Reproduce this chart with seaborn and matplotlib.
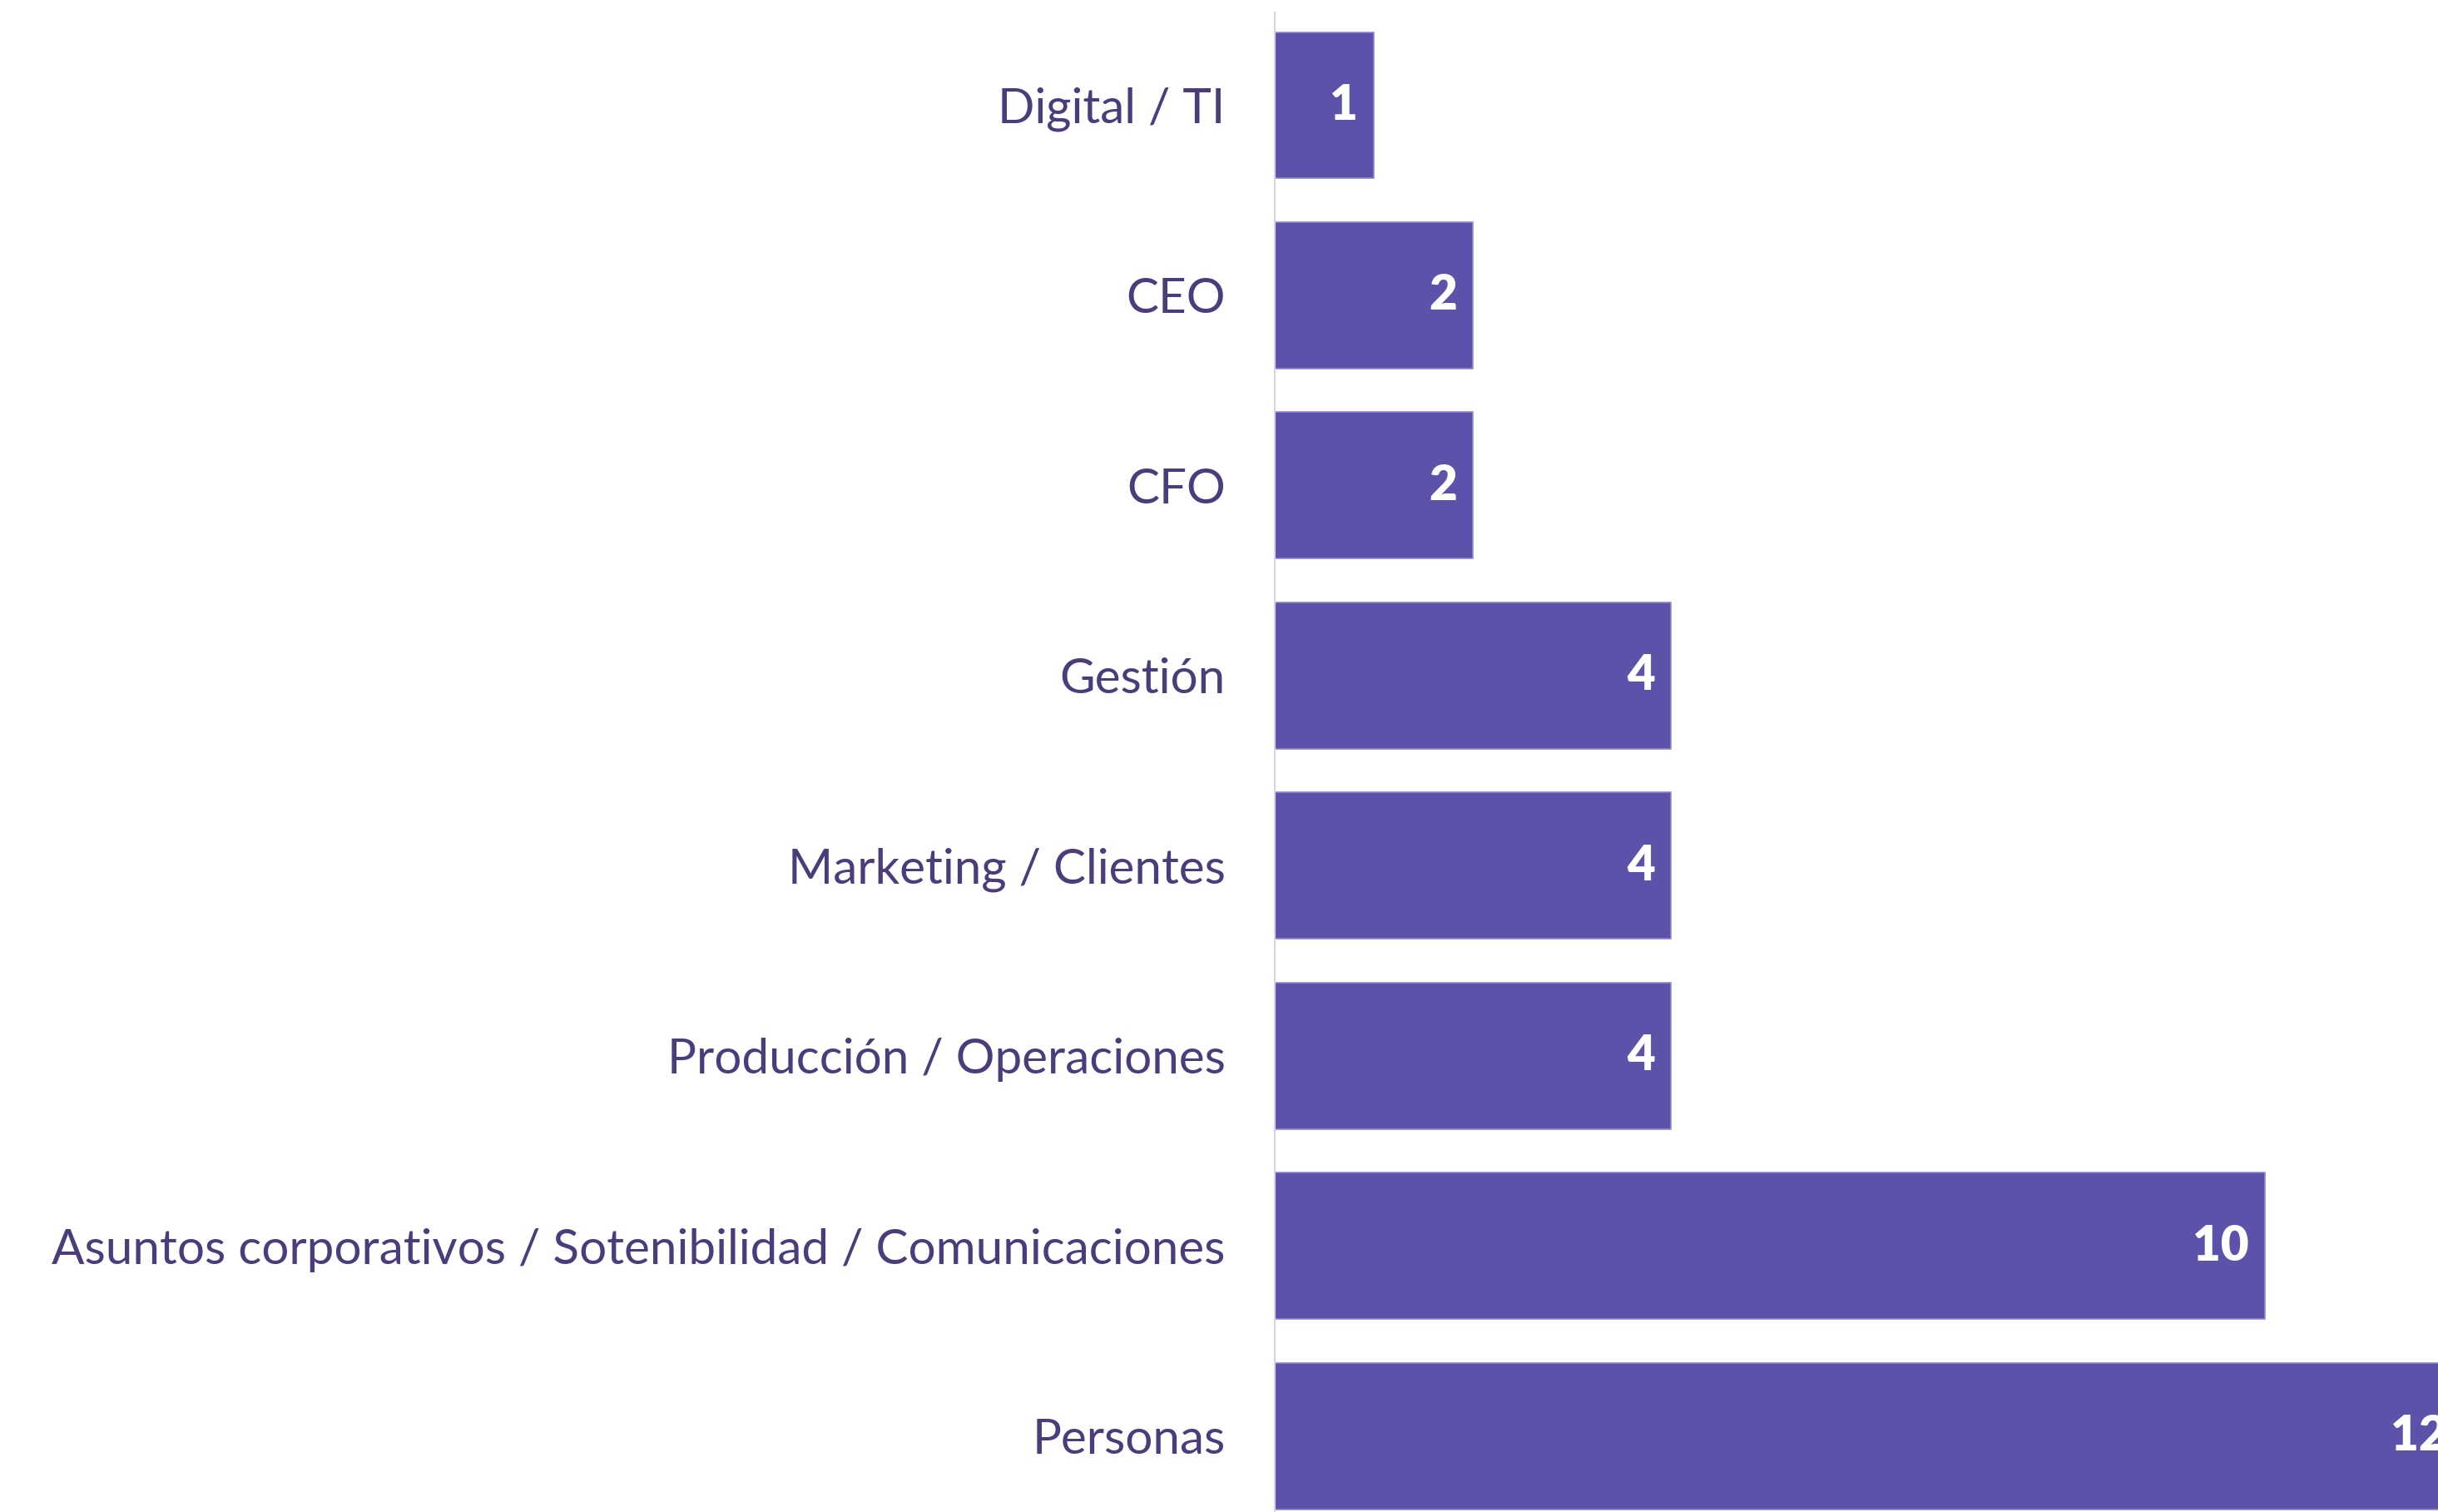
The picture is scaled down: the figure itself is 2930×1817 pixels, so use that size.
import pandas as pd
import seaborn as sns
import matplotlib.pyplot as plt

areas = ["Digital / TI", "CEO", "CFO", "Gestión", "Marketing / Clientes",
         "Producción / Operaciones",
         "Asuntos corporativos / Sotenibilidad / Comunicaciones", "Personas"]
counts = [1, 2, 2, 4, 4, 4, 10, 12]

df = pd.DataFrame({"area": areas, "n": counts})

sns.set_style("white")
plt.rcParams["font.family"] = ["Lato", "DejaVu Sans"]

bar_color = "#5C52AA"
text_color = "#4B3C7C"

fig = plt.figure(figsize=(29.30, 18.17), dpi=100)
ax = fig.add_axes([0.523, 0.0, 0.477, 0.992])

sns.barplot(data=df, y="area", x="n", color=bar_color, width=0.77,
            edgecolor="#8F87D0", linewidth=1.2, saturation=1, ax=ax)

for i, v in enumerate(counts):
    ax.annotate(str(v), xy=(v, i), xytext=(-14, 0), textcoords="offset points",
                ha="right", va="center", color="white", fontsize=42,
                fontweight="heavy", annotation_clip=False)

ax.set_xlim(0, 11.75)
ax.set_ylim(7.40, -0.49)
ax.set_xlabel("")
ax.set_ylabel("")
ax.set_xticks([])
ax.tick_params(axis="y", length=0, pad=43, labelsize=42, labelcolor=text_color)
for lbl in ax.get_yticklabels():
    lbl.set_fontweight("normal")

for s in ["top", "right", "bottom"]:
    ax.spines[s].set_visible(False)
ax.spines["left"].set_color("#D6D2EC")
ax.spines["left"].set_linewidth(1.5)

fig.savefig("out.png", dpi=100)
